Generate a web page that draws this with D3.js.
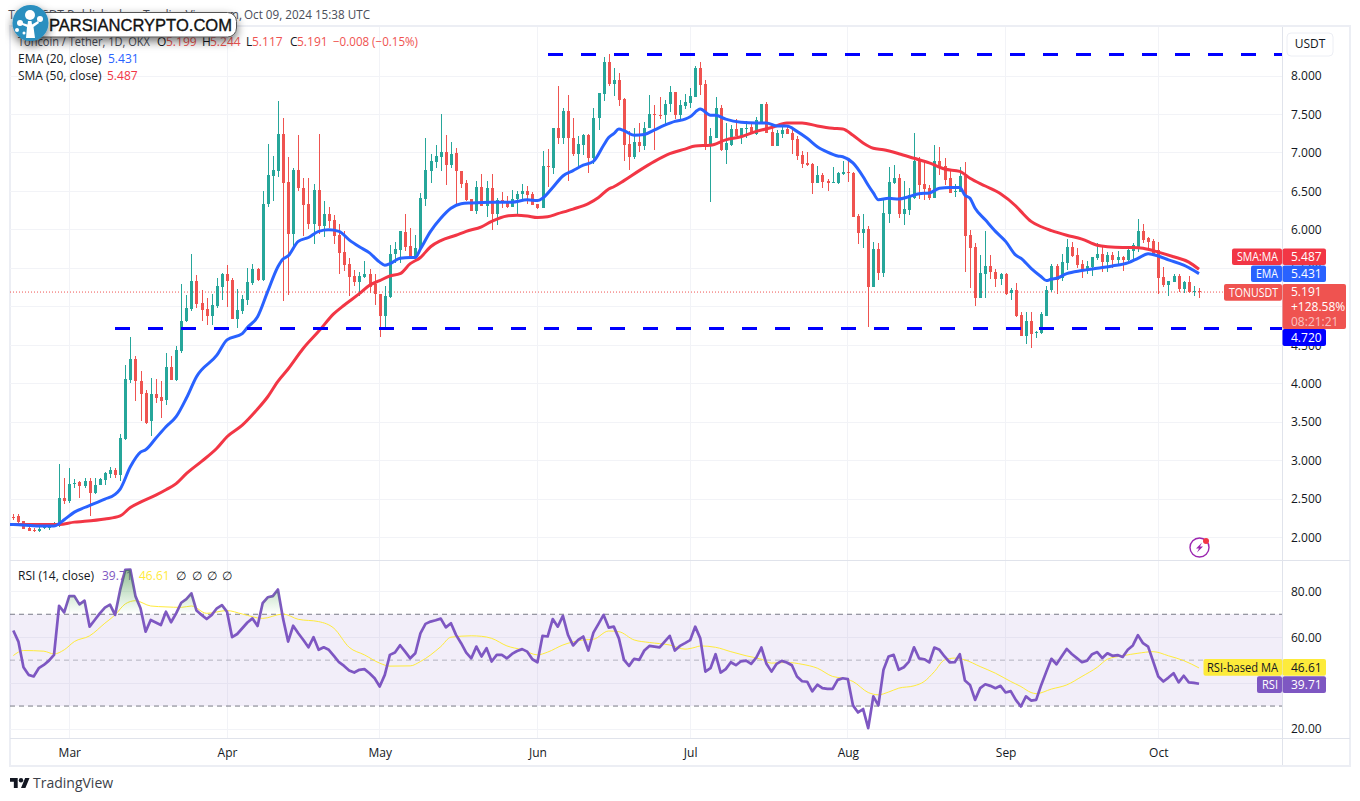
<!DOCTYPE html>
<html><head><meta charset="utf-8">
<script src="https://cdn.jsdelivr.net/npm/d3@7/dist/d3.min.js"></script>
<style>
html,body{margin:0;padding:0;background:#fff;overflow:hidden}
svg{display:block}
text{font-family:"Open Sans",sans-serif;font-size:12px;fill:#131722}
.axis text{font-size:12px;fill:#131722}
</style></head><body>
<svg id="c" width="1360" height="801"></svg>
<script>
// ---------- data ----------
const firstDay = "2024-02-19";
const opens = [
2.27,2.28,2.21,2.12,2.10,2.08,2.12,2.12,2.14,2.15,
2.51,2.47,2.70,2.72,2.67,2.73,2.58,2.68,2.75,2.83,
2.88,2.81,3.28,4.05,4.32,4.04,3.88,3.52,3.86,3.83,
3.79,4.22,4.05,4.43,4.81,4.97,5.33,5.05,4.97,4.88,
5.01,5.26,5.43,5.35,4.84,4.95,5.09,5.31,5.49,5.35,
6.34,6.70,6.77,7.24,6.62,5.95,6.78,6.55,6.34,6.08,
6.52,6.05,6.21,6.13,5.93,5.71,5.55,5.40,5.32,5.39,
5.42,5.30,5.17,4.88,5.13,5.69,5.74,5.97,5.79,5.63,
5.75,6.40,6.77,6.88,6.95,7.01,6.84,7.00,6.77,6.61,
6.40,6.25,6.56,6.31,6.54,6.21,6.39,6.38,6.30,6.40,
6.46,6.50,6.47,6.33,6.28,6.83,6.81,7.32,7.19,7.55,
7.20,6.99,7.10,7.23,6.93,7.45,7.77,8.18,7.90,7.95,
7.70,7.12,6.95,7.14,7.09,7.33,7.51,7.49,7.49,7.63,
7.79,7.49,7.61,7.65,7.73,8.11,7.89,7.10,7.20,7.58,
7.04,7.10,7.31,7.22,7.32,7.34,7.25,7.39,7.64,7.27,
7.09,7.25,7.31,7.26,7.18,6.97,6.87,6.86,6.61,6.71,
6.63,6.61,6.61,6.73,6.75,6.74,6.18,5.96,6.01,5.26,
5.75,5.44,6.21,6.61,6.68,6.21,6.26,6.41,6.90,6.60,
6.54,6.42,6.90,6.83,6.67,6.50,6.49,6.70,5.93,5.78,
5.11,5.43,5.53,5.45,5.36,5.43,5.18,5.22,4.89,4.62,
4.82,4.66,4.66,4.88,5.22,5.53,5.37,5.57,5.78,5.67,
5.56,5.48,5.52,5.64,5.69,5.58,5.67,5.61,5.65,5.61,
5.73,5.78,5.99,5.90,5.86,5.74,5.39,5.28,5.32,5.40,
5.23,5.32,5.19,5.199];
const highs = [
2.30,2.305,2.21,2.15,2.12,2.16,2.17,2.16,2.20,2.955,
2.77,2.90,2.76,2.74,2.78,2.77,2.78,2.78,2.85,2.92,
2.90,3.35,4.24,4.61,4.36,4.16,3.92,4.07,4.06,4.03,
4.40,4.36,4.49,5.30,5.15,5.69,5.41,5.22,5.12,5.17,
5.37,5.44,5.54,5.38,5.23,5.15,5.51,5.56,5.51,6.50,
7.12,6.96,7.68,7.46,6.95,6.80,7.23,6.68,6.68,6.60,
7.25,6.37,6.30,6.19,6.08,5.98,5.64,5.48,5.45,5.60,
5.49,5.42,5.17,5.27,5.80,5.84,5.99,6.21,6.02,5.93,
6.48,7.19,6.99,7.10,7.51,7.23,7.14,7.07,6.77,6.65,
6.40,6.63,6.73,6.63,6.73,6.41,6.49,6.44,6.52,6.51,
6.60,6.57,6.49,6.34,7.02,7.05,7.33,7.87,7.58,7.75,
7.45,7.22,7.25,7.25,7.58,7.78,8.25,8.29,8.11,8.04,
7.71,7.28,7.33,7.39,7.40,7.75,7.62,7.73,7.69,7.87,
7.79,7.69,7.77,7.84,8.13,8.18,7.95,7.32,7.73,7.62,
7.39,7.36,7.44,7.33,7.41,7.38,7.47,7.64,7.66,7.36,
7.30,7.36,7.36,7.31,7.22,7.02,7.01,6.87,6.83,6.74,
6.66,6.82,6.75,6.90,6.90,6.75,6.21,6.21,6.05,5.84,
5.83,6.42,6.82,6.84,6.73,6.64,6.54,7.26,6.95,6.90,
6.58,7.10,7.08,6.94,6.78,6.60,6.82,6.88,6.00,5.83,
5.67,5.99,5.67,5.49,5.44,5.44,5.24,5.31,4.93,4.93,
4.93,4.69,4.93,5.27,5.56,5.56,5.69,5.88,5.84,5.77,
5.61,5.60,5.65,5.83,5.79,5.71,5.71,5.73,5.66,5.79,
5.83,6.14,6.08,5.91,5.88,5.84,5.52,5.34,5.43,5.43,
5.34,5.40,5.27,5.244];
const lows = [
2.23,2.195,2.11,2.085,2.07,2.075,2.11,2.10,2.14,2.14,
2.44,2.45,2.65,2.51,2.65,2.28,2.57,2.68,2.68,2.77,
2.77,2.73,3.27,4.01,3.78,3.52,3.48,3.32,3.75,3.56,
3.72,4.05,4.04,4.40,4.80,4.94,4.98,4.81,4.76,4.76,
4.98,5.09,5.00,4.84,4.73,4.90,5.02,5.28,5.34,5.34,
6.30,6.37,6.69,5.07,5.15,5.74,6.50,5.92,6.01,5.82,
5.95,5.91,6.02,5.82,5.43,5.47,5.14,5.27,5.14,5.38,
5.18,5.02,4.61,4.70,5.12,5.57,5.57,5.72,5.63,5.63,
5.74,6.31,6.61,6.81,6.77,6.58,6.81,6.34,6.55,6.37,
6.24,6.21,6.31,6.17,6.00,6.06,6.29,6.29,6.30,6.21,
6.40,6.34,6.32,6.27,6.28,6.56,6.73,7.12,7.12,6.63,
6.96,6.82,6.97,6.74,6.86,7.30,7.67,7.87,7.74,7.61,
6.90,6.78,6.92,7.01,7.04,7.32,7.04,7.44,7.38,7.53,
7.44,7.44,7.57,7.58,7.73,7.75,7.04,6.36,7.19,7.03,
6.86,7.09,7.22,7.12,7.19,7.25,7.23,7.38,7.26,7.09,
7.09,7.19,7.25,6.99,6.91,6.80,6.83,6.47,6.61,6.54,
6.50,6.61,6.60,6.71,6.62,6.17,5.82,5.77,4.74,5.26,
5.35,5.39,6.09,6.60,6.16,6.06,6.19,6.40,6.40,6.39,
6.39,6.41,6.71,6.58,6.48,6.43,6.49,5.45,5.24,5.01,
5.11,5.11,5.36,5.26,5.28,5.15,5.09,4.87,4.62,4.52,
4.46,4.60,4.65,4.88,5.19,5.17,5.33,5.48,5.65,5.50,
5.38,5.43,5.40,5.61,5.45,5.45,5.50,5.54,5.47,5.60,
5.61,5.71,5.83,5.74,5.66,5.17,5.26,5.14,5.32,5.19,
5.18,5.18,5.14,5.117];
const closes = [
2.26,2.205,2.115,2.09,2.09,2.11,2.14,2.15,2.16,2.51,
2.47,2.70,2.71,2.67,2.73,2.58,2.68,2.76,2.84,2.88,
2.81,3.29,4.06,4.32,4.03,3.87,3.49,3.87,3.81,3.78,
4.22,4.05,4.44,4.82,4.99,5.33,5.04,4.96,4.88,5.02,
5.27,5.43,5.33,4.84,4.96,5.10,5.32,5.49,5.35,6.34,
6.71,6.78,7.24,6.61,5.95,6.78,6.55,6.32,6.08,6.52,
6.05,6.20,6.12,5.92,5.70,5.54,5.39,5.32,5.40,5.43,
5.26,5.16,4.88,5.14,5.69,5.75,5.98,5.78,5.63,5.76,
6.41,6.78,6.89,6.96,7.01,6.84,6.99,6.76,6.60,6.39,
6.25,6.56,6.31,6.54,6.21,6.39,6.37,6.30,6.40,6.47,
6.50,6.45,6.32,6.28,6.83,6.82,7.32,7.19,7.55,7.19,
6.99,7.12,7.23,6.93,7.46,7.78,8.18,7.89,7.95,7.69,
7.10,6.95,7.14,7.09,7.33,7.51,7.50,7.48,7.64,7.79,
7.49,7.62,7.66,7.74,8.11,7.88,7.10,7.22,7.58,7.04,
7.13,7.31,7.22,7.32,7.33,7.26,7.43,7.64,7.26,7.09,
7.26,7.30,7.25,7.17,6.96,6.86,6.84,6.61,6.71,6.62,
6.61,6.62,6.74,6.75,6.74,6.17,5.96,6.01,5.26,5.75,
5.44,6.22,6.62,6.68,6.21,6.27,6.45,6.90,6.58,6.53,
6.42,6.90,6.83,6.65,6.48,6.51,6.70,5.92,5.76,5.11,
5.44,5.53,5.45,5.36,5.43,5.17,5.22,4.88,4.62,4.82,
4.65,4.67,4.91,5.22,5.53,5.35,5.58,5.78,5.66,5.54,
5.48,5.53,5.65,5.69,5.58,5.67,5.61,5.65,5.61,5.74,
5.80,5.99,5.87,5.84,5.69,5.38,5.28,5.34,5.40,5.23,
5.32,5.19,5.20,5.191];
const rsiValues = [
62.9,58.1,46.9,43.6,42.9,46.5,47.9,49.8,52.3,73.7,
70.8,77.9,77.9,74.3,75.9,64.6,67.5,70.4,72.9,74.2,
69.7,80.6,89.3,89.5,77.9,72.6,62.4,67.5,66.4,65.3,
71.1,66.5,70.4,75.0,76.6,79.1,71.6,69.7,67.9,69.7,
72.6,74.0,71.1,60.0,61.4,63.9,66.4,68.2,64.9,74.8,
77.4,77.9,80.8,68.2,58.1,65.0,61.7,58.8,55.6,60.0,
54.5,55.6,54.5,51.9,49.1,47.5,45.5,44.6,45.8,46.1,
44.3,42.1,38.5,43.6,52.3,53.3,56.5,53.7,50.8,53.0,
61.7,65.8,66.8,67.4,68.1,64.3,66.1,61.0,57.4,53.3,
50.8,55.9,51.6,55.2,49.4,52.3,52.3,50.8,52.7,54.0,
54.8,53.7,50.4,49.1,60.6,60.3,67.9,64.6,69.3,61.0,
56.4,58.8,60.3,54.2,62.0,65.8,69.7,64.2,64.6,59.5,
50.1,47.5,50.6,50.1,54.2,56.2,55.9,55.6,58.1,60.6,
54.2,56.2,57.4,58.7,64.6,59.5,45.0,46.5,52.6,44.6,
46.1,49.1,47.8,49.5,49.8,48.4,51.1,55.5,48.4,45.0,
48.4,49.7,49.0,47.8,42.9,40.8,40.6,36.4,39.3,37.8,
37.5,37.5,41.4,42.1,41.7,30.3,27.2,28.7,20.4,34.2,
30.3,45.8,51.6,52.3,45.8,46.9,49.4,55.6,50.8,50.4,
49.0,55.5,54.5,51.6,49.0,49.1,52.6,41.1,39.2,32.7,
37.8,39.5,38.8,37.8,38.8,35.9,36.5,32.7,29.8,34.2,
32.4,32.7,39.2,45.0,50.6,48.2,51.6,54.9,52.7,50.9,
49.1,49.8,52.6,53.5,50.9,53.0,51.9,52.2,51.4,54.5,
56.4,60.9,57.4,55.9,49.4,42.9,40.7,42.4,44.3,40.3,
43.2,40.3,40.1,39.71];
// moving averages: day number since the first day, value at that day
const emaDays = [-1,0,5,8,9,10,12,14,18,20,21,23,25,26,28,30,32,34,36,40,42,45,46,48,50,52,53,54,56,58,60,62,64,66,68,70,72,73,74,76,78,79,80,82,84,86,88,90,94,98,101,103,104,106,108,110,112,114,116,117,118,119,120,122,124,126,128,130,132,133,135,137,138,140,143,146,148,150,152,154,156,158,160,162,163,165,167,168,169,170,172,174,176,178,180,182,184,186,187,188,189,191,193,195,197,198,200,202,203,204,205,207,210,213,216,219,221,223,225,227,230,233];
const emaValues = [2.17,2.17,2.15,2.15,2.18,2.23,2.33,2.39,2.50,2.56,2.63,2.92,3.11,3.14,3.29,3.44,3.57,3.81,4.09,4.37,4.57,4.65,4.73,4.87,5.20,5.52,5.62,5.66,5.85,5.90,5.98,6.00,5.98,5.87,5.78,5.70,5.58,5.54,5.56,5.63,5.64,5.64,5.75,5.98,6.15,6.28,6.34,6.35,6.36,6.36,6.39,6.38,6.41,6.55,6.70,6.77,6.84,6.89,7.10,7.20,7.25,7.31,7.29,7.23,7.24,7.30,7.36,7.41,7.44,7.47,7.57,7.49,7.49,7.44,7.40,7.39,7.39,7.35,7.35,7.28,7.19,7.08,7.01,6.96,6.95,6.87,6.69,6.58,6.48,6.39,6.41,6.40,6.43,6.47,6.48,6.54,6.55,6.55,6.45,6.41,6.28,6.13,5.98,5.85,5.67,5.63,5.50,5.39,5.34,5.36,5.37,5.43,5.47,5.50,5.53,5.57,5.63,5.69,5.66,5.61,5.54,5.431];
const smaDays = [-1,0,9,12,14,18,21,23,25,28,30,32,34,37,40,42,45,48,50,52,54,57,60,63,65,68,70,72,74,76,78,80,82,84,87,89,92,94,97,99,101,103,105,107,110,113,115,117,118,120,123,126,129,132,134,137,140,143,146,149,152,155,158,161,163,165,167,169,171,174,177,180,183,186,188,191,194,197,198,200,202,204,207,210,213,215,218,220,222,225,228,231,233];
const smaValues = [2.17,2.17,2.17,2.20,2.21,2.24,2.28,2.39,2.46,2.55,2.62,2.70,2.83,2.99,3.16,3.31,3.46,3.67,3.83,4.03,4.19,4.46,4.68,4.91,5.02,5.17,5.28,5.34,5.40,5.43,5.56,5.64,5.78,5.86,5.93,5.98,6.04,6.11,6.18,6.19,6.18,6.16,6.17,6.21,6.27,6.34,6.42,6.53,6.56,6.64,6.77,6.89,6.99,7.05,7.09,7.10,7.17,7.21,7.28,7.33,7.39,7.39,7.35,7.32,7.31,7.23,7.13,7.06,7.04,6.99,6.93,6.87,6.79,6.76,6.67,6.57,6.47,6.31,6.24,6.11,6.04,5.99,5.93,5.88,5.80,5.78,5.77,5.77,5.76,5.71,5.65,5.58,5.487];
const rsiMaDays = [0,2,6,8,10,12,15,18,20,22,24,27,30,33,35,38,42,45,49,53,56,60,63,66,69,72,74,78,80,84,86,90,92,94,97,100,103,105,108,112,114,117,119,122,125,129,132,134,135,138,141,144,147,149,152,155,158,161,163,165,168,170,172,174,177,179,181,183,185,187,190,193,196,198,200,201,204,207,210,213,215,218,221,224,227,230,233];
const rsiMaValues = [52.0,54.2,53.9,52.7,54.5,58.1,60.6,66.1,69.7,74.5,75.9,73.6,73.2,73.0,73.6,70.4,71.6,70.1,68.2,70.1,67.8,66.8,63.9,55.6,52.3,48.7,47.4,47.5,49.4,55.9,60.0,60.6,60.4,59.5,56.2,54.5,52.3,53.5,56.6,58.8,59.1,62.7,62.4,58.8,57.7,56.6,54.8,55.6,56.2,55.6,53.7,51.9,50.4,48.7,49.0,48.2,46.5,42.9,42.1,40.7,35.9,34.9,36.1,37.8,38.8,40.7,45.0,50.1,50.9,50.1,47.2,44.3,40.7,38.5,35.9,35.4,37.4,39.2,42.9,46.9,50.4,51.9,53.0,53.7,51.9,49.8,46.61];
const priceTicks = [2,2.5,3,3.5,4,4.5,5,5.5,6,6.5,7,7.5,8];
const rsiTicks = [20,40,60,80];
const rsiBands = [70,50,30];
const monthDays = ["2024-03-01","2024-04-01","2024-05-01","2024-06-01","2024-07-01","2024-08-01","2024-09-01","2024-10-01"];
const monthNames = ["Mar","Apr","May","Jun","Jul","Aug","Sep","Oct"];
const levels = [{p:8.275,from:"2024-06-03"},{p:4.72,from:"2024-03-10"}];
const lastPrice = 5.191, lastEma = 5.431, lastSma = 5.487, lastRsi = 39.71, lastRsiMa = 46.61;

// ---------- layout ----------
const L=10,R=1282,T=27,M=560,B=738;
const day0 = new Date(firstDay+"T00:00:00Z");
const dayAt = i => new Date(day0.getTime()+i*864e5);
const x = d3.scaleUtc().domain([day0,dayAt(233)]).range([13.3,1199]);
const xi = i => x(dayAt(i));
const y = d3.scaleLinear().domain([2,8]).range([537.5,76]);
const yr = d3.scaleLinear().domain([20,80]).range([729,591.3]);
const svg = d3.select("#c");
const defs = svg.append("defs");
defs.append("clipPath").attr("id","main").append("rect").attr("x",L).attr("y",T).attr("width",R-L).attr("height",M-T);
defs.append("clipPath").attr("id","rsi").append("rect").attr("x",L).attr("y",M).attr("width",R-L).attr("height",B-M);
defs.append("clipPath").attr("id","ob").append("rect").attr("x",L).attr("y",M).attr("width",R-L).attr("height",yr(70)-M);
const g1 = defs.append("linearGradient").attr("id","obg").attr("gradientUnits","userSpaceOnUse")
  .attr("x1",0).attr("x2",0).attr("y1",yr(90)).attr("y2",yr(70));
g1.append("stop").attr("offset",0).attr("stop-color","#2e7d32").attr("stop-opacity",.55);
g1.append("stop").attr("offset",1).attr("stop-color","#4caf50").attr("stop-opacity",0);
const fl = defs.append("filter").attr("id","sh").attr("x","-20%").attr("y","-60%").attr("width","140%").attr("height","260%");
fl.append("feDropShadow").attr("dx",0).attr("dy",4).attr("stdDeviation",5).attr("flood-color","#000").attr("flood-opacity",.55);

// frame
const frame="#eceef4", gridC="#f2f3f7";
svg.append("rect").attr("x",L).attr("y",26).attr("width",1350-L).attr("height",740).attr("fill","#fff").attr("stroke",frame).attr("stroke-width",2);

// grids
const tickXs = monthDays.map(d=>new Date(d+"T00:00:00Z"));
const grid = svg.append("g").attr("stroke",gridC).attr("stroke-width",1).attr("shape-rendering","crispEdges");
grid.selectAll(".v").data(tickXs).join("line").attr("x1",d=>x(d)).attr("x2",d=>x(d)).attr("y1",T).attr("y2",B);
grid.selectAll(".h").data(priceTicks).join("line").attr("x1",L).attr("x2",R).attr("y1",d=>y(d)).attr("y2",d=>y(d));
grid.selectAll(".r").data(rsiTicks).join("line").attr("x1",L).attr("x2",R).attr("y1",d=>yr(d)).attr("y2",d=>yr(d));

// last price dotted line
svg.append("line").attr("x1",L).attr("x2",R).attr("y1",y(lastPrice)).attr("y2",y(lastPrice))
  .attr("stroke","#ef5350").attr("stroke-width",1).attr("stroke-dasharray","1 2");

// candles
const idx = d3.range(opens.length);
const cg = svg.append("g").attr("clip-path","url(#main)").attr("shape-rendering","crispEdges");
const col = i => closes[i]>=opens[i] ? "#26a69a" : "#ef5350";
cg.selectAll(".w").data(idx).join("rect").attr("x",i=>Math.round(xi(i))).attr("width",1)
  .attr("y",i=>y(highs[i])).attr("height",i=>y(lows[i])-y(highs[i])).attr("fill",col);
cg.selectAll(".b").data(idx).join("rect").attr("x",i=>Math.round(xi(i))-1).attr("width",3)
  .attr("y",i=>y(Math.max(opens[i],closes[i])))
  .attr("height",i=>Math.max(1,Math.abs(y(opens[i])-y(closes[i])))).attr("fill",col);

// moving averages
const ln = (days,vals,sy,cv)=>d3.line().curve(cv||d3.curveMonotoneX).x((d,i)=>xi(days[i])).y(d=>sy(d))(vals);
const lg = svg.append("g").attr("clip-path","url(#main)").attr("fill","none").attr("stroke-linejoin","round");
lg.append("path").attr("d",ln(smaDays,smaValues,y)).attr("stroke","#f23645").attr("stroke-width",3);
lg.append("path").attr("d",ln(emaDays,emaValues,y)).attr("stroke","#2962ff").attr("stroke-width",3);

// horizontal levels
svg.append("g").selectAll("line").data(levels).join("line")
  .attr("x1",d=>x(new Date(d.from+"T00:00:00Z"))).attr("x2",R)
  .attr("y1",d=>y(d.p)).attr("y2",d=>y(d.p))
  .attr("stroke","#0000ff").attr("stroke-width",3).attr("stroke-dasharray","15 18").attr("shape-rendering","crispEdges");

// RSI pane
svg.append("rect").attr("x",L).attr("width",R-L).attr("y",yr(70)).attr("height",yr(30)-yr(70)).attr("fill","#7e57c2").attr("fill-opacity",.1);
svg.append("g").selectAll("line").data(rsiBands).join("line").attr("x1",L).attr("x2",R).attr("y1",d=>yr(d)).attr("y2",d=>yr(d))
  .attr("stroke","#787b86").attr("stroke-opacity",d=>d===50?.5:1).attr("stroke-dasharray","5 4");
const leg=(gx,gy,t,c,len)=>{const s=svg.append("text").attr("x",gx).attr("y",gy).style("fill",c||"#131722").text(t);if(len)s.attr("textLength",len).attr("lengthAdjust","spacingAndGlyphs");return s;};
leg(18,580,"RSI (14, close)");
leg(102,580,lastRsi.toFixed(2),"#7e57c2");
leg(139,580,lastRsiMa.toFixed(2),"#ffeb3b");
[176,192,207,222].forEach(v=>leg(v,580,"∅"));
const rg = svg.append("g").attr("clip-path","url(#rsi)").attr("fill","none").attr("stroke-linejoin","round");
const obArea = d3.area().x((d,i)=>xi(i)).y0(yr(70)).y1(d=>yr(d))(rsiValues);
svg.append("g").attr("clip-path","url(#ob)").append("path").attr("d",obArea).attr("fill","url(#obg)");
rg.append("path").attr("d",ln(rsiMaDays,rsiMaValues,yr)).attr("stroke","#ffeb3b").attr("stroke-width",1);
rg.append("path").attr("d",ln(idx,rsiValues,yr,d3.curveLinear)).attr("stroke","#7e57c2").attr("stroke-width",2.7);

// separators
const sep = svg.append("g").attr("stroke","#e0e3eb").attr("stroke-width",1).attr("shape-rendering","crispEdges");
sep.append("line").attr("x1",R).attr("x2",R).attr("y1",T).attr("y2",765);
sep.append("line").attr("x1",L).attr("x2",1350).attr("y1",M).attr("y2",M);
sep.append("line").attr("x1",L).attr("x2",1350).attr("y1",B).attr("y2",B);

// axes
const clean = s=>{s.select(".domain").remove();s.selectAll(".tick line").remove();s.selectAll("text").style("font-family",'"Open Sans",sans-serif').style("font-size","12px").style("fill","#131722");};
svg.append("g").attr("class","axis").attr("transform",`translate(${R},0)`)
  .call(d3.axisRight(y).tickValues(priceTicks).tickFormat(d3.format(".3f")).tickPadding(9).tickSize(0)).call(clean);
svg.append("g").attr("class","axis").attr("transform",`translate(${R},0)`)
  .call(d3.axisRight(yr).tickValues(rsiTicks).tickFormat(d3.format(".2f")).tickPadding(9).tickSize(0)).call(clean);
svg.append("g").attr("class","axis").attr("transform",`translate(0,${B+10})`)
  .call(d3.axisBottom(x).tickValues(tickXs).tickFormat((d,i)=>monthNames[i]).tickPadding(0).tickSize(0)).call(clean);

// price-scale badges: a label box left of the axis, a value box on it
function labelBox(x0,y0,y1,c,label,len,tc){
  svg.append("rect").attr("x",x0).attr("y",y0).attr("width",R-x0).attr("height",y1-y0).attr("rx",2).attr("fill",c);
  svg.append("text").attr("x",R-4).attr("y",y0+(y1-y0)/2+4.2).attr("text-anchor","end")
    .attr("textLength",len).attr("lengthAdjust","spacingAndGlyphs").style("fill",tc||"#fff").text(label);
}
function valueBox(x2,y0,y1,c,vals,tc){
  svg.append("rect").attr("x",R+.5).attr("y",y0).attr("width",x2-R-.5).attr("height",y1-y0).attr("rx",2).attr("fill",c);
  const bh=(y1-y0)/vals.length;
  vals.forEach((v,i)=>svg.append("text").attr("x",R+9).attr("y",y0+bh*i+bh/2+4.2)
    .style("fill",i===2?"rgba(255,255,255,.65)":(tc||"#fff")).text(v));
}
labelBox(1232,248.5,265,"#f23645","SMA:MA",41);
valueBox(1326,248.5,265,"#f23645",[lastSma.toFixed(3)]);
labelBox(1251,265.5,282,"#2962ff","EMA",22);
valueBox(1326,265.5,282,"#2962ff",[lastEma.toFixed(3)]);
labelBox(1224,284,300.7,"#ef5350","TONUSDT",49);
valueBox(1346,284,329,"#ef5350",[lastPrice.toFixed(3),"+128.58%","08:21:21"]);
valueBox(1326,329,346,"#0000ff",[levels[1].p.toFixed(3)]);
labelBox(1203.5,659,675.7,"#fdeb3b","RSI-based MA",71,"#131722");
valueBox(1326,659,675.7,"#fdeb3b",[lastRsiMa.toFixed(2)],"#131722");
labelBox(1257,676.3,693,"#7e57c2","RSI",16);
valueBox(1326,676.3,693,"#7e57c2",[lastRsi.toFixed(2)]);

// currency box
svg.append("rect").attr("x",1287).attr("y",33).attr("width",46).attr("height",23).attr("rx",4).attr("fill","#fff").attr("stroke","#eceef4");
svg.append("text").attr("x",1310).attr("y",48).attr("text-anchor","middle").text("USDT");

// header + legends
const redC="#ef5350";
svg.append("text").attr("x",242).attr("y",19).attr("text-anchor","end").style("fill","#4a4e5a").text("TONUSDT Published on TradingView.com,");
leg(244,19,"Oct 09, 2024 15:38 UTC","#4a4e5a",126);
leg(18,46,"Toncoin / Tether, 1D, OKX","#4a4e5a",132);
[[157,"O"],[202,"H"],[246,"L"],[290,"C"]].forEach(d=>leg(d[0],46,d[1]));
[[166,opens[233].toFixed(3)],[210,highs[233].toFixed(3)],[252,lows[233].toFixed(3)],[297,closes[233].toFixed(3)]].forEach(d=>leg(d[0],46,d[1],redC));
leg(333,46,"−0.008 (−0.15%)",redC,85);
leg(18,63,"EMA (20, close)");leg(108,63,lastEma.toFixed(3),"#2962ff");
leg(18,80,"SMA (50, close)");leg(107,80,lastSma.toFixed(3),"#f23645");

// site logo
const lg2=svg.append("g");
lg2.append("rect").attr("x",27).attr("y",12.5).attr("width",209.5).attr("height",24.5).attr("rx",9).attr("fill","#fff").attr("stroke","#555").attr("stroke-width",1).attr("filter","url(#sh)");
lg2.append("circle").attr("cx",30.5).attr("cy",23).attr("r",18).attr("fill","#2b8fbf").attr("filter","url(#sh)");
lg2.append("path").attr("d","M26 38 L27 27 L20 24 L21 22.5 L27.5 24.5 L28 21 L31.5 21 L32 24.5 L38 21 L39 23 L33.5 27 L35 38 Z").attr("fill","#fff");
[[30,15,5],[20,23,3],[40,19,3],[17,30,2],[24,33,1.5]].forEach(c=>lg2.append("circle").attr("cx",c[0]).attr("cy",c[1]).attr("r",c[2]).attr("fill","#fff"));
lg2.append("text").attr("x",49).attr("y",31).attr("textLength",183).attr("lengthAdjust","spacingAndGlyphs")
  .style("font-family",'"Liberation Sans",sans-serif').style("font-size","17px").style("fill","#111").style("stroke","#111").style("stroke-width",.35).text("PARSIANCRYPTO.COM");

// lightning icon
const li=svg.append("g").attr("transform","translate(1199.5,547.5)");
li.append("circle").attr("r",9.5).attr("fill","none").attr("stroke","#9c27b0").attr("stroke-width",1.4);
li.append("path").attr("d","M2.5 -5 L-3.5 1 L-0.5 1 L-2.5 5 L3.5 -1 L0.5 -1 Z").attr("fill","#9c27b0");
li.append("circle").attr("cx",6.5).attr("cy",-6.5).attr("r",3).attr("fill","#f23645");

// TradingView mark
const tv=svg.append("g").attr("transform","translate(10,775.8) scale(.55)").attr("fill","#131722");
tv.append("path").attr("d","M14 22H7V11H0V4h14v18zM28 22h-8l7.5-18h8L28 22z");
tv.append("circle").attr("cx",20).attr("cy",8).attr("r",4);
svg.append("text").attr("x",33).attr("y",788).style("font-size","14px").style("fill","#3c3f48").text("TradingView");
</script></body></html>
